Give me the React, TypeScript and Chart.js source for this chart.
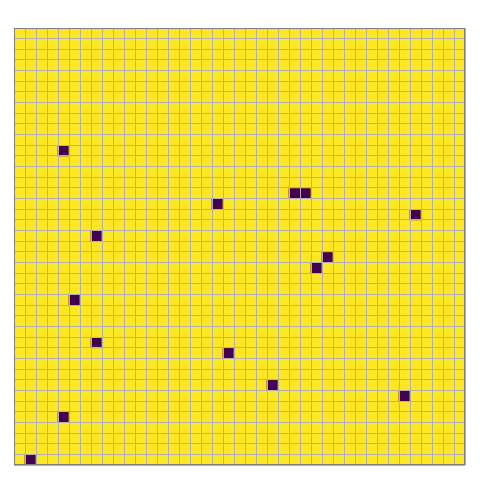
import React, { useEffect, useRef } from "react";
import { Chart, registerables } from "chart.js";

Chart.register(...registerables);

const columnLabels: string[] = Array.from({ length: 41 }, (_, i) => String(i));
const rowLabels: string[] = Array.from({ length: 41 }, (_, i) => String(i));

// cells whose value is 0 (col, row), all others are 1
const zeroCells: [number, number][] = [
  [4, 11],
  [25, 15],
  [26, 15],
  [18, 16],
  [36, 17],
  [7, 19],
  [28, 21],
  [27, 22],
  [5, 25],
  [7, 29],
  [19, 30],
  [23, 33],
  [35, 34],
  [4, 36],
  [1, 40],
];

const HIGH = "#fde725";
const LOW = "#440154";
const GRID = "#b0b0b0";

function cellValue(col: number, row: number): number {
  return zeroCells.some(([c, r]) => c === col && r === row) ? 0 : 1;
}

const framePlugin = {
  id: "frame",
  afterDraw(chart: any) {
    const { ctx, chartArea } = chart;
    ctx.save();
    ctx.strokeStyle = "#808080";
    ctx.lineWidth = 1;
    ctx.strokeRect(
      Math.round(chartArea.left) + 0.5,
      Math.round(chartArea.top) + 0.5,
      Math.round(chartArea.right - chartArea.left) - 1,
      Math.round(chartArea.bottom - chartArea.top) - 1
    );
    ctx.restore();
  },
};

export default function App() {
  const ref = useRef<HTMLCanvasElement | null>(null);
  useEffect(() => {
    if (!ref.current) return;
    const datasets = rowLabels.map((_, r) => ({
      label: "row " + r,
      data: columnLabels.map(() => 1),
      backgroundColor: columnLabels.map((_, c) => (cellValue(c, r) ? HIGH : LOW)),
      borderWidth: 0,
      barPercentage: 1,
      categoryPercentage: 1,
    }));
    const chart = new Chart(ref.current, {
      type: "bar",
      data: { labels: columnLabels, datasets },
      plugins: [framePlugin],
      options: {
        animation: false,
        responsive: false,
        maintainAspectRatio: false,
        layout: { padding: { left: 14, top: 28, right: 15, bottom: 15 } },
        plugins: { legend: { display: false }, tooltip: { enabled: false } },
        scales: {
          x: {
            stacked: true,
            ticks: { display: false, autoSkip: false },
            grid: { offset: true, color: GRID, drawTicks: false, lineWidth: 1, z: 1 },
            border: { display: false },
          },
          y: {
            type: "linear",
            stacked: true,
            reverse: true,
            min: 0,
            max: 41,
            ticks: { display: false, stepSize: 1, maxTicksLimit: 1000 },
            grid: { color: GRID, drawTicks: false, lineWidth: 1, z: 1 },
            border: { display: false },
          },
        },
      },
    });
    return () => chart.destroy();
  }, []);
  return (
    <div style={{ position: "fixed", left: 0, top: 0, width: 480, height: 480, background: "#fff" }}>
      <canvas ref={ref} width={480} height={480} style={{ display: "block" }} />
    </div>
  );
}
